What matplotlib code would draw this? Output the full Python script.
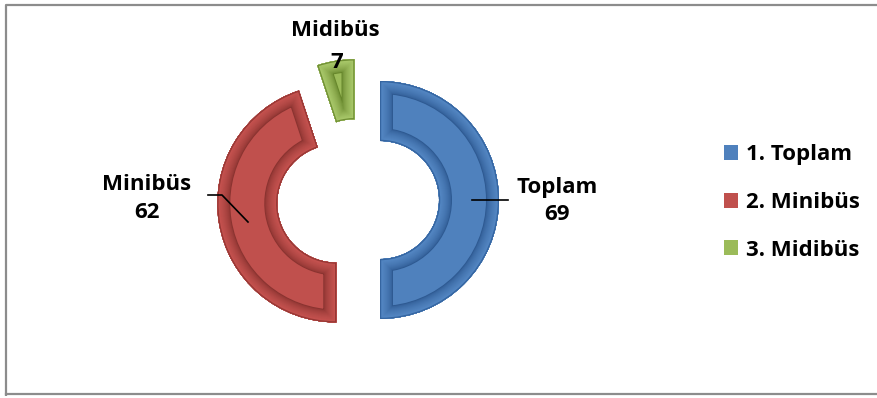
import matplotlib
matplotlib.use("Agg")
import matplotlib.pyplot as plt
from matplotlib.patches import Wedge
from matplotlib.colors import to_rgb

# Data
categories = ["Toplam", "Minibüs", "Midibüs"]
values = [69, 62, 7]
legend_labels = ["1. Toplam", "2. Minibüs", "3. Midibüs"]

face_colors = ["#4F81BD", "#C0504D", "#9BBB59"]
groove_colors = ["#2E5A92", "#8A3330", "#66862B"]
band_colors = ["#5386C3", "#C5524F", "#A9C86A"]
edge_colors = ["#3565A0", "#963835", "#708F35"]

W, H = 877, 398
PT = 0.72  # points per pixel at 100 dpi
fig = plt.figure(figsize=(W / 100, H / 100), dpi=100)
ax = fig.add_axes([0, 0, 1, 1])

FONT = ["Open Sans", "DejaVu Sans"]

center = (358, 198)
radius = 119
ring = 60
gap = 22  # offset of each segment from the centre, data units

wedges, _ = ax.pie(
    values,
    radius=radius,
    center=center,
    startangle=90,
    counterclock=False,
    explode=[gap] * len(values),
    colors=face_colors,
    wedgeprops=dict(width=ring, edgecolor="none", linewidth=0),
    frame=True,
)
ax.set_xlim(0, W)
ax.set_ylim(0, H)
ax.set_aspect("equal")
ax.axis("off")


def blend(c1, c2, t):
    a, b = to_rgb(c1), to_rgb(c2)
    return tuple(x + (y - x) * t for x, y in zip(a, b))


# Bevelled look: shaded rim band, clipped to each segment
DEPTH = 13
for w, groove, band, edge in zip(wedges, groove_colors, band_colors, edge_colors):
    layers = []
    for k in range(DEPTH, 1, -1):
        t = (DEPTH - k) / (DEPTH - 2)
        layers.append((2 * k, blend(groove, band, t ** 0.6)))
    layers.append((2.5, edge))
    for px, col in layers:
        p = Wedge(w.center, w.r, w.theta1, w.theta2, width=w.width,
                  facecolor="none", edgecolor=col, linewidth=px * PT,
                  transform=w.get_transform())
        ax.add_patch(p)
        p.set_clip_path(w)

# Data labels
lab_kw = dict(fontsize=16, fontweight="bold", family=FONT, color="black",
              ha="center", va="center")
ax.text(335, H - 30, "Midibüs", **lab_kw)
ax.text(337, H - 63, str(values[2]), **lab_kw)
ax.text(147, H - 184, "Minibüs", **lab_kw)
ax.text(147, H - 213, str(values[1]), **lab_kw)
ax.text(557, H - 187, "Toplam", **lab_kw)
ax.text(557, H - 215, str(values[0]), **lab_kw)

# Leader lines
ax.plot([208, 222, 248], [H - 195, H - 195, H - 222], color="black", lw=1.2)
ax.plot([472, 508], [H - 200, H - 200], color="black", lw=1.2)

# Legend
leg = ax.legend(wedges, legend_labels, loc="center left",
                bbox_to_anchor=(724 / W, 1 - 202.5 / H), frameon=False,
                prop=dict(family=FONT, weight="bold", size=16),
                handlelength=0.65, handleheight=0.65, handletextpad=0.35,
                labelspacing=1.2, borderpad=0, borderaxespad=0)

# Chart frame
ax.plot([6, 6, W + 5], [H - 396, H - 5, H - 5], color="#8C8C8C", lw=1.6,
        solid_capstyle="butt")
ax.plot([6, W + 5], [H - 394, H - 394], color="#8C8C8C", lw=1.6)

fig.savefig("out.png", dpi=100)
